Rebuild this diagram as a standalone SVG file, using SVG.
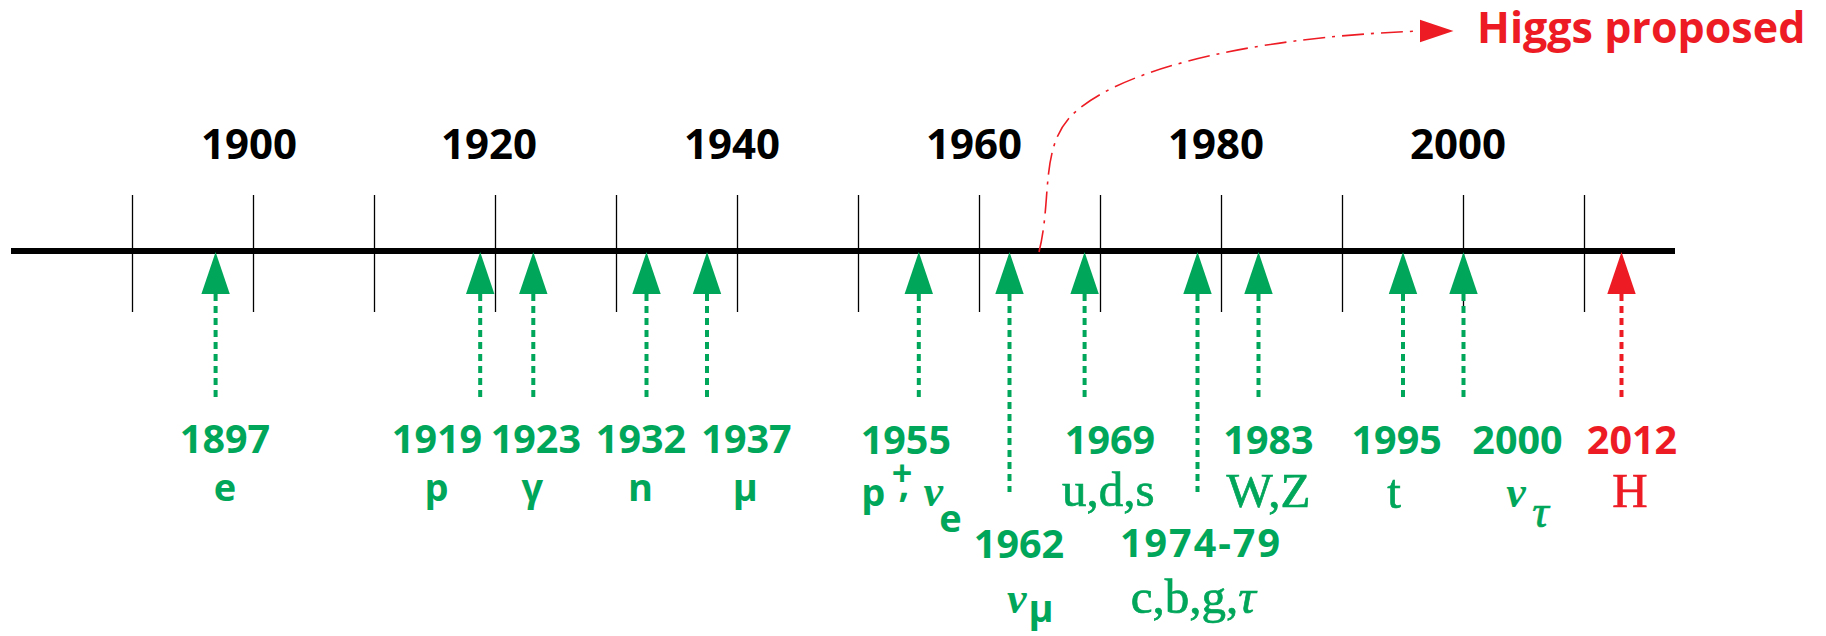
<svg xmlns="http://www.w3.org/2000/svg" xmlns:xlink="http://www.w3.org/1999/xlink" width="1826" height="636" viewBox="0 0 1826 636">
<style>
.axis{stroke:#000;stroke-width:6;fill:none}
.tick{stroke:#000;stroke-width:1.3;fill:none}
.decade{font-family:"Open Sans","Liberation Sans",sans-serif;font-weight:700;font-size:42px;fill:#000;text-anchor:middle}
.g{fill:#00A65A}
.r{fill:#ED1C24}
.dg{stroke:#00A65A;stroke-width:4;stroke-dasharray:7 5;fill:none}
.dr{stroke:#ED1C24;stroke-width:4;stroke-dasharray:7 5;fill:none}
.yr{font-family:"Open Sans","Liberation Sans",sans-serif;font-weight:700;font-size:39.5px;text-anchor:middle}
.ps{font-family:"Open Sans","Liberation Sans",sans-serif;font-weight:700;font-style:normal;font-size:38px;text-anchor:middle}
.sf{font-family:"Liberation Serif","DejaVu Serif",serif;font-weight:400;font-size:49px;text-anchor:middle;stroke-width:0.7}
.sf.g{stroke:#00A65A}
.sf.r{stroke:#ED1C24}
.nu{font-family:"Liberation Serif","DejaVu Serif",serif;font-weight:700;font-style:italic;font-size:44px;text-anchor:middle}
.tau{font-family:"Liberation Serif","DejaVu Serif",serif;font-weight:400;font-style:italic;font-size:46px;text-anchor:middle;stroke:#00A65A;stroke-width:0.7}
.higgs{font-family:"Open Sans","Liberation Sans",sans-serif;font-weight:700;font-size:43px;fill:#ED1C24}
.curve{stroke:#ED1C24;stroke-width:1.6;stroke-dasharray:22 7 3 7;fill:none}
</style>
<defs>
<path id="tri" d="M0 0 L14.2 42 L-14.2 42 Z"/>
</defs>

<g id="axis">
<line class="axis" x1="11" y1="251" x2="1675" y2="251"/>
<g id="ticks">
<line class="tick" x1="132.5" y1="195" x2="132.5" y2="312"/>
<line class="tick" x1="253.5" y1="195" x2="253.5" y2="312"/>
<line class="tick" x1="374.5" y1="195" x2="374.5" y2="312"/>
<line class="tick" x1="495.5" y1="195" x2="495.5" y2="312"/>
<line class="tick" x1="616.5" y1="195" x2="616.5" y2="312"/>
<line class="tick" x1="737.5" y1="195" x2="737.5" y2="312"/>
<line class="tick" x1="858.5" y1="195" x2="858.5" y2="312"/>
<line class="tick" x1="979.5" y1="195" x2="979.5" y2="312"/>
<line class="tick" x1="1100.5" y1="195" x2="1100.5" y2="312"/>
<line class="tick" x1="1221.5" y1="195" x2="1221.5" y2="312"/>
<line class="tick" x1="1342.5" y1="195" x2="1342.5" y2="312"/>
<line class="tick" x1="1463.5" y1="195" x2="1463.5" y2="312"/>
<line class="tick" x1="1584.5" y1="195" x2="1584.5" y2="312"/>
</g>
<g id="decades">
<text class="decade" x="249" y="159">1900</text>
<text class="decade" x="489" y="159">1920</text>
<text class="decade" x="732" y="159">1940</text>
<text class="decade" x="974" y="159">1960</text>
<text class="decade" x="1216" y="159">1980</text>
<text class="decade" x="1458" y="159">2000</text>
</g>
</g>

<g id="connectors">
<path class="curve" d="M1039 252 C1052 200, 1040 150, 1070 117 C1110 75, 1230 38, 1421 31"/>
<polygon class="r" points="1420,19.7 1453.5,31 1420,42.3"/>
</g>

<g id="e1897">
<use xlink:href="#tri" href="#tri" class="g" x="215.6" y="252"/>
<line class="dg" x1="215.6" y1="294" x2="215.6" y2="402"/>
<text class="yr g" x="225" y="453">1897</text>
<text class="ps g" x="225" y="501">e</text>
</g>

<g id="e1919">
<use xlink:href="#tri" href="#tri" class="g" x="480.2" y="252"/>
<line class="dg" x1="480.2" y1="294" x2="480.2" y2="402"/>
<text class="yr g" x="437" y="453">1919</text>
<text class="ps g" x="436.6" y="501">p</text>
</g>

<g id="e1923">
<use xlink:href="#tri" href="#tri" class="g" x="533.3" y="252"/>
<line class="dg" x1="533.3" y1="294" x2="533.3" y2="402"/>
<text class="yr g" x="535.8" y="453">1923</text>
<text class="ps g" x="532.2" y="501">γ</text>
</g>

<g id="e1932">
<use xlink:href="#tri" href="#tri" class="g" x="646.5" y="252"/>
<line class="dg" x1="646.5" y1="294" x2="646.5" y2="402"/>
<text class="yr g" x="641" y="453">1932</text>
<text class="ps g" x="640.5" y="501">n</text>
</g>

<g id="e1937">
<use xlink:href="#tri" href="#tri" class="g" x="707" y="252"/>
<line class="dg" x1="707" y1="294" x2="707" y2="402"/>
<text class="yr g" x="746.5" y="453">1937</text>
<text class="ps g" x="745.3" y="501">μ</text>
</g>

<g id="e1955">
<use xlink:href="#tri" href="#tri" class="g" x="918.8" y="252"/>
<line class="dg" x1="918.8" y1="294" x2="918.8" y2="402"/>
<text class="yr g" x="905.8" y="454">1955</text>
<text class="ps g" x="873.3" y="506">p<tspan x="902" y="486" font-size="36">+</tspan><tspan x="904" y="497">,</tspan><tspan class="nu" x="933.3" y="506">ν</tspan><tspan x="950.5" y="531.7">e</tspan></text>
</g>

<g id="e1962">
<use xlink:href="#tri" href="#tri" class="g" x="1009.5" y="252"/>
<line class="dg" x1="1009.5" y1="294" x2="1009.5" y2="492"/>
<text class="yr g" x="1019" y="558">1962</text>
<text class="nu g" x="1016.7" y="613">ν<tspan class="ps" x="1041" y="622">μ</tspan></text>
</g>

<g id="e1969">
<use xlink:href="#tri" href="#tri" class="g" x="1084.6" y="252"/>
<line class="dg" x1="1084.6" y1="294" x2="1084.6" y2="402"/>
<text class="yr g" x="1110" y="454">1969</text>
<text class="sf g" x="1108.3" y="506" font-size="50">u,d,s</text>
</g>

<g id="e1974">
<use xlink:href="#tri" href="#tri" class="g" x="1197.5" y="252"/>
<line class="dg" x1="1197.5" y1="294" x2="1197.5" y2="492"/>
<text class="yr g" x="1200" y="557" textLength="160" lengthAdjust="spacing">1974-79</text>
<text class="sf g" x="1193.3" y="613" font-size="50">c,b,g,<tspan font-style="italic">τ</tspan></text>
</g>

<g id="e1983">
<use xlink:href="#tri" href="#tri" class="g" x="1258.5" y="252"/>
<line class="dg" x1="1258.5" y1="294" x2="1258.5" y2="402"/>
<text class="yr g" x="1268.5" y="454">1983</text>
<text class="sf g" x="1268.4" y="506.7">W,Z</text>
</g>

<g id="e1995">
<use xlink:href="#tri" href="#tri" class="g" x="1403" y="252"/>
<line class="dg" x1="1403" y1="294" x2="1403" y2="402"/>
<text class="yr g" x="1396.7" y="454">1995</text>
<text class="sf g" x="1394" y="508">t</text>
</g>

<g id="e2000">
<use xlink:href="#tri" href="#tri" class="g" x="1463.5" y="252"/>
<line class="dg" x1="1463.5" y1="294" x2="1463.5" y2="402"/>
<text class="yr g" x="1517.5" y="454">2000</text>
<text class="nu g" x="1516" y="507">ν<tspan class="tau" x="1540.5" y="527">τ</tspan></text>
</g>

<g id="e2012">
<use xlink:href="#tri" href="#tri" class="r" x="1621.5" y="252"/>
<line class="dr" x1="1621.5" y1="294" x2="1621.5" y2="402"/>
<text class="yr r" x="1632" y="454">2012</text>
<text class="sf r" x="1630" y="507">H</text>
</g>

<g id="higgs-label">
<text class="higgs" x="1477" y="43">Higgs proposed</text>
</g>
</svg>
